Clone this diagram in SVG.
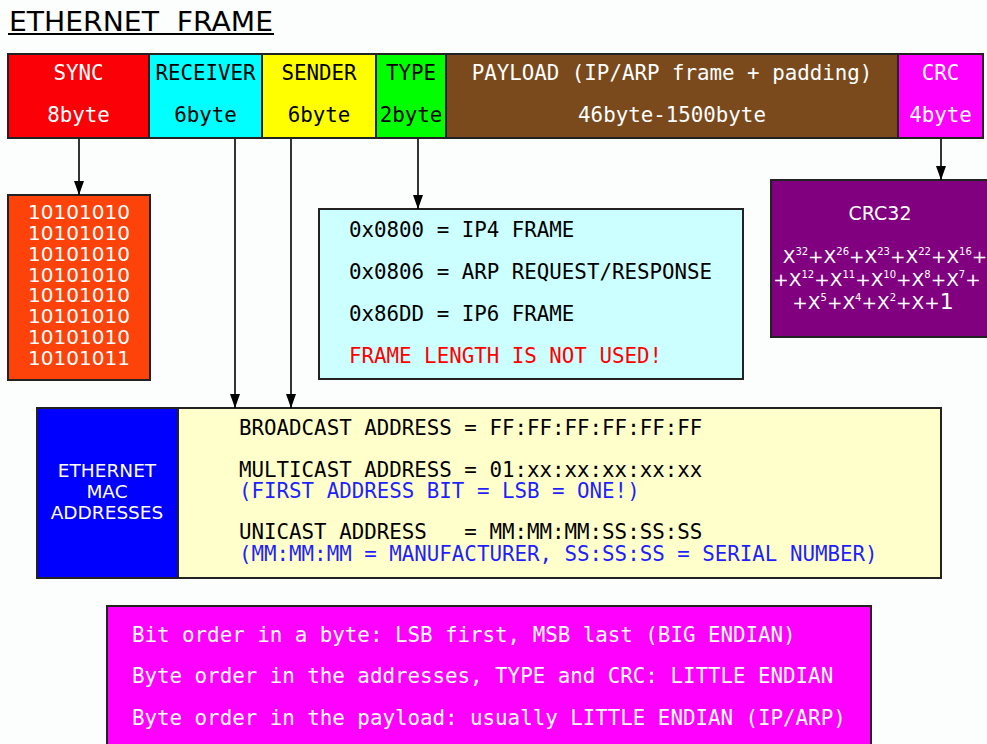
<svg xmlns="http://www.w3.org/2000/svg" width="987" height="744" viewBox="0 0 987 744">
<defs>
<marker id="ah" viewBox="0 0 14 10" refX="14" refY="5" markerWidth="14" markerHeight="10" markerUnits="userSpaceOnUse" orient="auto">
<path d="M0,0 L14,5 L0,10 Z" fill="#000"/>
</marker>
<style>
.box{stroke:#222;stroke-width:2}
.mono{font-family:"DejaVu Sans Mono","Liberation Mono",monospace;font-size:20.8px}
.sans{font-family:"DejaVu Sans","Liberation Sans",sans-serif}
.w{fill:#fff}
.k{fill:#000}
.c{text-anchor:middle}
.conn{stroke:#000;stroke-width:1.6;fill:none}
</style>
</defs>
<rect x="0" y="0" width="987" height="744" fill="#fcfdfd"/>
<g id="title">
<text x="9" y="31" class="sans k" font-size="27" textLength="264" lengthAdjust="spacingAndGlyphs" xml:space="preserve">ETHERNET  FRAME</text>
<line x1="8" y1="34" x2="274" y2="34" stroke="#000" stroke-width="2"/>
</g>
<g id="sync">
<rect class="box" x="8" y="54" width="141" height="84" fill="#fb0007"/>
<text class="mono w c" x="78.5" y="80">SYNC</text>
<text class="mono w c" x="78.5" y="122">8byte</text>
</g>
<g id="receiver">
<rect class="box" x="149" y="54" width="113" height="84" fill="#00ffff"/>
<text class="mono k c" x="205.5" y="80">RECEIVER</text>
<text class="mono k c" x="205.5" y="122">6byte</text>
</g>
<g id="sender">
<rect class="box" x="262" y="54" width="114" height="84" fill="#ffff00"/>
<text class="mono k c" x="319" y="80">SENDER</text>
<text class="mono k c" x="319" y="122">6byte</text>
</g>
<g id="type">
<rect class="box" x="376" y="54" width="70" height="84" fill="#00ff00"/>
<text class="mono k c" x="411" y="80">TYPE</text>
<text class="mono k c" x="411" y="122">2byte</text>
</g>
<g id="payload">
<rect class="box" x="446" y="54" width="452" height="84" fill="#7a4a1d"/>
<text class="mono w c" x="672" y="80">PAYLOAD (IP/ARP frame + padding)</text>
<text class="mono w c" x="672" y="122">46byte-1500byte</text>
</g>
<g id="crc">
<rect class="box" x="898" y="54" width="85" height="84" fill="#ff00ff"/>
<text class="mono w c" x="940.5" y="80">CRC</text>
<text class="mono w c" x="940.5" y="122">4byte</text>
</g>
<g id="preamble">
<rect class="box" x="8" y="195" width="142" height="185" fill="#fd420a"/>
<g class="sans w c" font-size="20">
<text x="79" y="219">10101010</text>
<text x="79" y="240">10101010</text>
<text x="79" y="261">10101010</text>
<text x="79" y="282">10101010</text>
<text x="79" y="302">10101010</text>
<text x="79" y="323">10101010</text>
<text x="79" y="344">10101010</text>
<text x="79" y="365">10101011</text>
</g>
</g>
<g id="typecodes">
<rect class="box" x="319" y="209" width="424" height="170" fill="#ccffff"/>
<text class="mono k" x="349" y="237">0x0800 = IP4 FRAME</text>
<text class="mono k" x="349" y="279">0x0806 = ARP REQUEST/RESPONSE</text>
<text class="mono k" x="349" y="321">0x86DD = IP6 FRAME</text>
<text class="mono" x="349" y="363" fill="#ff0000">FRAME LENGTH IS NOT USED!</text>
</g>
<g id="crc32">
<rect class="box" x="771" y="180" width="220" height="157" fill="#800080"/>
<text class="sans w c" x="880" y="220" font-size="19">CRC32</text>
<g class="sans w c" font-size="18.5">
<text x="885" y="263">X<tspan font-size="10" dy="-8">32</tspan><tspan dy="8">+X</tspan><tspan font-size="10" dy="-8">26</tspan><tspan dy="8">+X</tspan><tspan font-size="10" dy="-8">23</tspan><tspan dy="8">+X</tspan><tspan font-size="10" dy="-8">22</tspan><tspan dy="8">+X</tspan><tspan font-size="10" dy="-8">16</tspan><tspan dy="8">+</tspan></text>
<text x="877" y="286">+X<tspan font-size="10" dy="-8">12</tspan><tspan dy="8">+X</tspan><tspan font-size="10" dy="-8">11</tspan><tspan dy="8">+X</tspan><tspan font-size="10" dy="-8">10</tspan><tspan dy="8">+X</tspan><tspan font-size="10" dy="-8">8</tspan><tspan dy="8">+X</tspan><tspan font-size="10" dy="-8">7</tspan><tspan dy="8">+</tspan></text>
<text x="873" y="309">+X<tspan font-size="10" dy="-8">5</tspan><tspan dy="8">+X</tspan><tspan font-size="10" dy="-8">4</tspan><tspan dy="8">+X</tspan><tspan font-size="10" dy="-8">2</tspan><tspan dy="8">+X+</tspan><tspan font-size="22">1</tspan></text>
</g>
</g>
<g id="mac">
<rect class="box" x="37" y="408" width="904" height="170" fill="#ffffcc"/>
<rect class="box" x="37" y="408" width="141" height="170" fill="#0000ff"/>
<g class="sans w c" font-size="18.5">
<text x="107" y="477">ETHERNET</text>
<text x="107" y="498">MAC</text>
<text x="107" y="519">ADDRESSES</text>
</g>
<text class="mono k" x="239" y="435">BROADCAST ADDRESS = FF:FF:FF:FF:FF:FF</text>
<text class="mono k" x="239" y="477">MULTICAST ADDRESS = 01:xx:xx:xx:xx:xx</text>
<text class="mono" x="239" y="498" fill="#1f1fff">(FIRST ADDRESS BIT = LSB = ONE!)</text>
<text class="mono k" x="239" y="539" xml:space="preserve">UNICAST ADDRESS   = MM:MM:MM:SS:SS:SS</text>
<text class="mono" x="239" y="561" fill="#1f1fff">(MM:MM:MM = MANUFACTURER, SS:SS:SS = SERIAL NUMBER)</text>
</g>
<g id="byteorder">
<rect class="box" x="107" y="606" width="764" height="145" fill="#ff00ff"/>
<text class="mono w" x="132" y="642">Bit order in a byte: LSB first, MSB last (BIG ENDIAN)</text>
<text class="mono w" x="132" y="683">Byte order in the addresses, TYPE and CRC: LITTLE ENDIAN</text>
<text class="mono w" x="132" y="725">Byte order in the payload: usually LITTLE ENDIAN (IP/ARP)</text>
</g>
<g id="connectors">
<line class="conn" x1="79" y1="139" x2="79" y2="195" marker-end="url(#ah)"/>
<line class="conn" x1="235" y1="139" x2="235" y2="408" marker-end="url(#ah)"/>
<line class="conn" x1="291" y1="139" x2="291" y2="408" marker-end="url(#ah)"/>
<line class="conn" x1="418" y1="139" x2="418" y2="209" marker-end="url(#ah)"/>
<line class="conn" x1="941" y1="139" x2="941" y2="180" marker-end="url(#ah)"/>
</g>
</svg>
